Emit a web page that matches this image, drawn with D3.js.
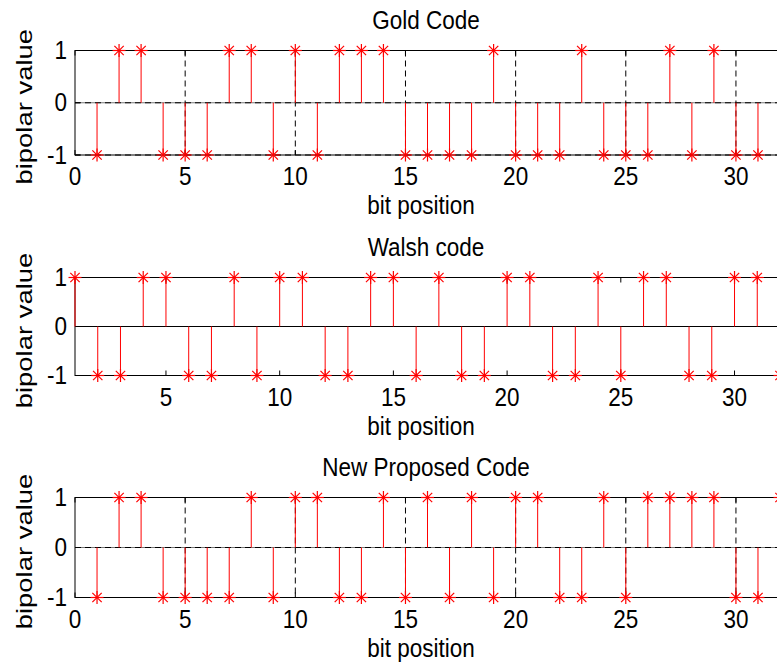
<!DOCTYPE html>
<html>
<head>
<meta charset="utf-8">
<script src="https://cdn.jsdelivr.net/npm/d3@7"></script>
<style>
  body { margin: 0; background: #fff; }
  svg { display: block; }
  text { font-family: "Liberation Sans", Arial, sans-serif; fill: #000; }
</style>
</head>
<body>
<svg width="777" height="666"></svg>
<script>
// bit values (Gold code is 31 chips long)
const goldCode = [-1, 1, 1, -1, -1, -1, 1, 1, -1, 1, -1, 1, 1, 1, -1, -1,
  -1, -1, 1, -1, -1, -1, 1, -1, -1, -1, 1, -1, 1, -1, -1];
const walshCode = [1, -1, -1, 1, 1, -1, -1, 1, -1, 1, 1, -1, -1, 1, 1, -1,
  1, -1, -1, 1, 1, -1, -1, 1, -1, 1, 1, -1, -1, 1, 1, -1];
const newCode = [-1, 1, 1, -1, -1, -1, -1, 1, -1, 1, 1, -1, -1, 1, -1, 1,
  -1, 1, -1, 1, 1, -1, -1, 1, -1, 1, 1, 1, 1, -1, -1, 1];

const xTicksFull = [0, 5, 10, 15, 20, 25, 30];
const xTicksWalsh = [5, 10, 15, 20, 25, 30];
const yTicks = [-1, 0, 1];

const titles = ['Gold Code', 'Walsh code', 'New Proposed Code'];

const svg = d3.select('svg');
const left = 75, right = 780;
const fs = 22.5, stretch = 1.13;   // figure text looks a bit stretched vertically

const panels = [
  { title: titles[0], data: goldCode, xmin: 0, ticks: xTicksFull, grid: true, top: 50.5, bottom: 155 },
  { title: titles[1], data: walshCode, xmin: 1, ticks: xTicksWalsh, grid: false, top: 277.5, bottom: 375.5 },
  { title: titles[2], data: newCode, xmin: 0, ticks: xTicksFull, grid: true, top: 497.5, bottom: 597.5 }
];

// asterisk marker: + and x on top of each other
function star(g, r) {
  const d = r * 0.72;
  g.append('line').attr('x1', -r).attr('x2', r).attr('y1', 0).attr('y2', 0);
  g.append('line').attr('x1', 0).attr('x2', 0).attr('y1', -r).attr('y2', r);
  g.append('line').attr('x1', -d).attr('x2', d).attr('y1', -d).attr('y2', d);
  g.append('line').attr('x1', -d).attr('x2', d).attr('y1', d).attr('y2', -d);
}

function label(g, tx, ty, anchor, str, rot) {
  const tr = rot
    ? `translate(${tx},${ty}) rotate(-90) scale(1.22,1)`
    : `translate(${tx},${ty}) scale(1,${stretch})`;
  return g.append('text')
    .attr('transform', tr)
    .attr('text-anchor', anchor).attr('font-size', fs)
    .text(str);
}

panels.forEach(p => {
  const x = d3.scaleLinear().domain([p.xmin, 32]).range([left, right]);
  const y = d3.scaleLinear().domain([-1, 1]).range([p.bottom, p.top]);
  const g = svg.append('g');
  const pts = p.data.map((v, i) => ({ bit: i + 1, v: v }));

  // baseline at 0
  g.append('line')
    .attr('x1', left).attr('x2', right)
    .attr('y1', y(0)).attr('y2', y(0))
    .attr('stroke', p.grid ? '#777' : '#000').attr('stroke-width', 1);

  if (p.grid) {
    g.selectAll('.vgrid').data(p.ticks.filter(t => t > p.xmin)).enter()
      .append('line')
      .attr('x1', d => x(d)).attr('x2', d => x(d))
      .attr('y1', p.top).attr('y2', p.bottom)
      .attr('stroke', '#000').attr('stroke-width', 1)
      .attr('stroke-dasharray', '6,4');
    g.selectAll('.hgrid').data(yTicks).enter()
      .append('line')
      .attr('x1', left).attr('x2', right)
      .attr('y1', d => y(d)).attr('y2', d => y(d))
      .attr('stroke', '#000').attr('stroke-width', 1)
      .attr('stroke-dasharray', '6,4');
  }

  // box
  g.append('rect')
    .attr('x', left).attr('y', p.top)
    .attr('width', right - left).attr('height', p.bottom - p.top)
    .attr('fill', 'none').attr('stroke', '#000').attr('stroke-width', 1);

  // tick marks (inward, top and bottom)
  p.ticks.forEach(t => {
    g.append('line').attr('x1', x(t)).attr('x2', x(t))
      .attr('y1', p.bottom).attr('y2', p.bottom - 5).attr('stroke', '#000');
    g.append('line').attr('x1', x(t)).attr('x2', x(t))
      .attr('y1', p.top).attr('y2', p.top + 5).attr('stroke', '#000');
  });
  yTicks.forEach(t => {
    g.append('line').attr('x1', left).attr('x2', left + 5)
      .attr('y1', y(t)).attr('y2', y(t)).attr('stroke', '#000');
  });

  // stems
  g.selectAll('.stem').data(pts).enter()
    .append('line')
    .attr('x1', d => x(d.bit)).attr('x2', d => x(d.bit))
    .attr('y1', y(0)).attr('y2', d => y(d.v))
    .attr('stroke', '#ff0000').attr('stroke-width', 1);

  g.selectAll('.mark').data(pts).enter()
    .append('g')
    .attr('transform', d => `translate(${x(d.bit)},${y(d.v)})`)
    .attr('stroke', '#ff0000').attr('stroke-width', 1.2)
    .each(function () { star(d3.select(this), 6.5); });

  // tick labels
  p.ticks.forEach(t => label(g, x(t), p.bottom + 30, 'middle', t));
  yTicks.forEach(t => label(g, 67, y(t) + 8.5, 'end', t));

  // titles and axis labels
  label(g, 426, p.top - 22, 'middle', p.title);
  label(g, 421, p.bottom + 59, 'middle', 'bit position');
  label(g, 32, (p.top + p.bottom) / 2 + 4, 'middle', 'bipolar value', true);
});
</script>
</body>
</html>
